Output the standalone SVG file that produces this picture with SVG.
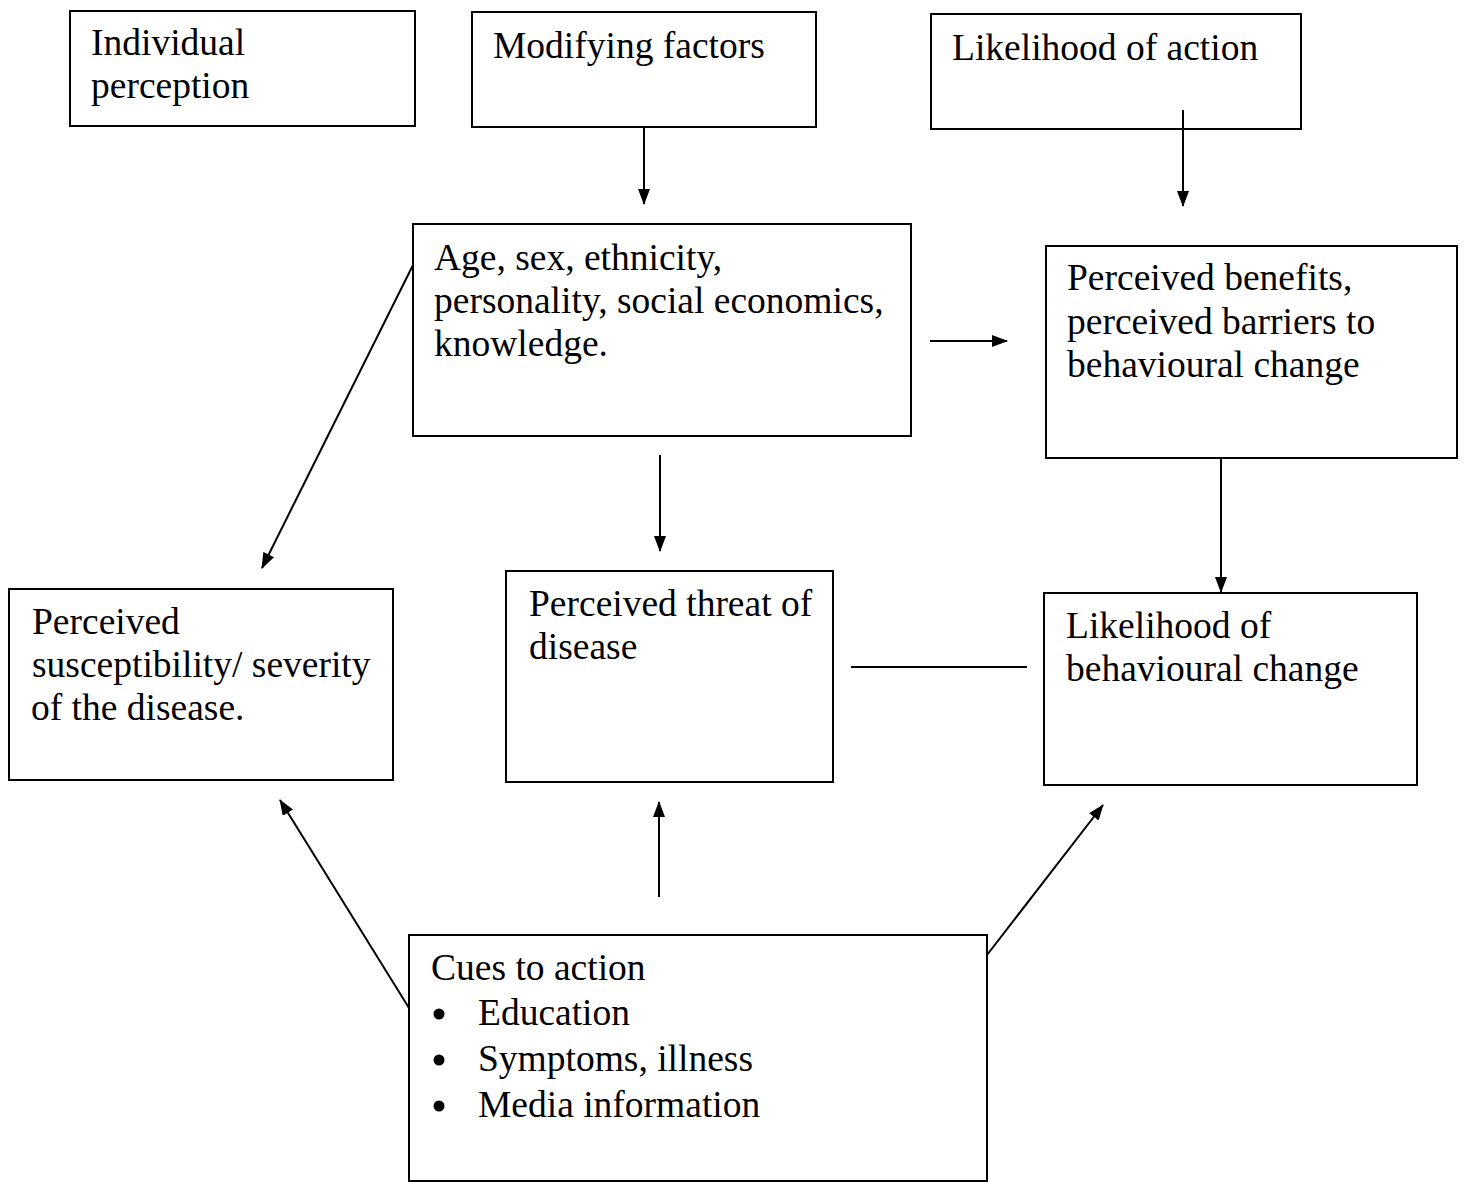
<svg xmlns="http://www.w3.org/2000/svg" width="1466" height="1184" viewBox="0 0 1466 1184">
<style>
.box{fill:none;stroke:#000;stroke-width:2}
.t{font-family:"Liberation Serif","Times New Roman",serif;font-size:37.5px;fill:#000}
.c{stroke:#000;stroke-width:2;fill:none}
</style>
<defs>
<marker id="ah" viewBox="0 0 16 12" refX="15" refY="6" markerWidth="16" markerHeight="12" markerUnits="userSpaceOnUse" orient="auto">
<path d="M0,0 L16,6 L0,12 Z" fill="#000"/>
</marker>
</defs>
<rect width="1466" height="1184" fill="#fff"/>
<g id="individual-perception">
<rect class="box" x="70" y="11" width="345" height="115"/>
<text class="t" x="91" y="55">Individual</text>
<text class="t" x="91" y="98">perception</text>
</g>
<g id="modifying-factors">
<rect class="box" x="472" y="12" width="344" height="115"/>
<text class="t" x="493" y="58">Modifying factors</text>
</g>
<g id="likelihood-of-action">
<rect class="box" x="931" y="14" width="370" height="115"/>
<text class="t" x="952" y="60">Likelihood of action</text>
</g>
<g id="age-sex">
<rect class="box" x="413" y="224" width="498" height="212"/>
<text class="t" x="434" y="270">Age, sex, ethnicity,</text>
<text class="t" x="434" y="313">personality, social economics,</text>
<text class="t" x="434" y="356">knowledge.</text>
</g>
<g id="perceived-benefits">
<rect class="box" x="1046" y="246" width="411" height="212"/>
<text class="t" x="1067" y="290">Perceived benefits,</text>
<text class="t" x="1067" y="334">perceived barriers to</text>
<text class="t" x="1067" y="377">behavioural change</text>
</g>
<g id="perceived-susceptibility">
<rect class="box" x="9" y="589" width="384" height="191"/>
<text class="t" x="32" y="634">Perceived</text>
<text class="t" x="32" y="677">susceptibility/ severity</text>
<text class="t" x="31" y="720">of the disease.</text>
</g>
<g id="perceived-threat">
<rect class="box" x="506" y="571" width="327" height="211"/>
<text class="t" x="529" y="616">Perceived threat of</text>
<text class="t" x="529" y="659">disease</text>
</g>
<g id="likelihood-of-behavioural-change">
<rect class="box" x="1044" y="593" width="373" height="192"/>
<text class="t" x="1066" y="638">Likelihood of</text>
<text class="t" x="1066" y="681">behavioural change</text>
</g>
<g id="cues-to-action">
<rect class="box" x="409" y="935" width="578" height="246"/>
<text class="t" x="431" y="980">Cues to action</text>
<circle cx="439" cy="1014" r="5.5" fill="#000"/>
<text class="t" x="478" y="1025">Education</text>
<circle cx="439" cy="1060" r="5.5" fill="#000"/>
<text class="t" x="478" y="1071">Symptoms, illness</text>
<circle cx="439" cy="1106" r="5.5" fill="#000"/>
<text class="t" x="478" y="1117">Media information</text>
</g>
<g id="connectors">
<line class="c" x1="644" y1="127" x2="644" y2="204" marker-end="url(#ah)"/>
<line class="c" x1="1183" y1="110" x2="1183" y2="206" marker-end="url(#ah)"/>
<line class="c" x1="413" y1="265" x2="262" y2="568" marker-end="url(#ah)"/>
<line class="c" x1="930" y1="341" x2="1007" y2="341" marker-end="url(#ah)"/>
<line class="c" x1="660" y1="455" x2="660" y2="551" marker-end="url(#ah)"/>
<line class="c" x1="1221" y1="458" x2="1221" y2="592" marker-end="url(#ah)"/>
<line class="c" x1="851" y1="667" x2="1027" y2="667"/>
<line class="c" x1="659" y1="897" x2="659" y2="802" marker-end="url(#ah)"/>
<line class="c" x1="409" y1="1008" x2="280" y2="800" marker-end="url(#ah)"/>
<line class="c" x1="987" y1="955" x2="1103" y2="805" marker-end="url(#ah)"/>
</g>
</svg>
